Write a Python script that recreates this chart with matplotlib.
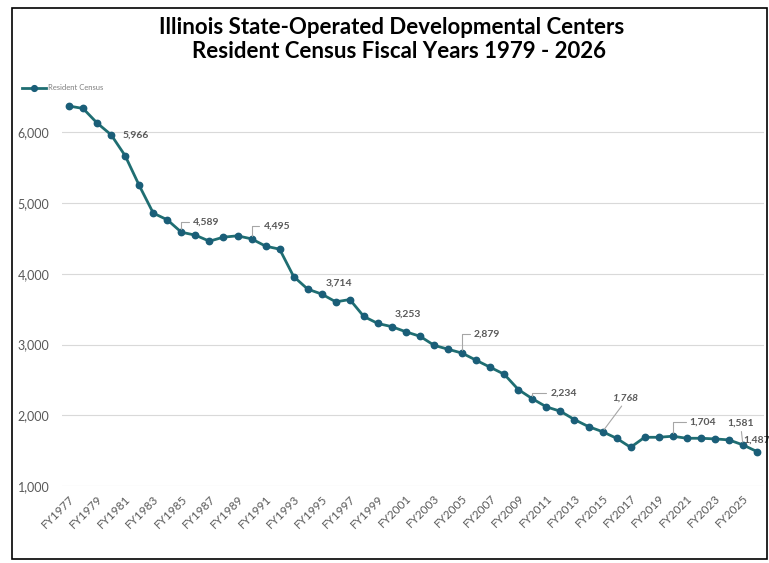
import matplotlib
matplotlib.use("Agg")
import matplotlib.pyplot as plt
from matplotlib.patches import Rectangle

years = list(range(1977, 2027))
categories = [f"FY{y}" for y in years]
census = [6373, 6339, 6133, 5966, 5670, 5250, 4859, 4764, 4589, 4547,
          4462, 4519, 4538, 4495, 4392, 4349, 3962, 3784, 3714, 3604,
          3637, 3397, 3298, 3253, 3180, 3117, 2990, 2934, 2879, 2778,
          2679, 2580, 2364, 2234, 2119, 2057, 1939, 1840, 1768, 1675,
          1547, 1689, 1689, 1704, 1675, 1675, 1666, 1652, 1581, 1487]
series_name = "Resident Census"
title_lines = ["Illinois State-Operated Developmental Centers",
               "Resident Census Fiscal Years 1979 - 2026"]
yticks = [1000, 2000, 3000, 4000, 5000, 6000]
labelled = {"FY1980": "5,966", "FY1985": "4,589", "FY1990": "4,495",
            "FY1995": "3,714", "FY2000": "3,253", "FY2005": "2,879",
            "FY2010": "2,234", "FY2015": "1,768", "FY2020": "1,704",
            "FY2025": "1,581", "FY2026": "1,487"}

W, H = 769, 563
fig = plt.figure(figsize=(W / 100, H / 100), dpi=100)
plt.rcParams['font.family'] = ["Lato", "DejaVu Sans"]

# plot area
L, R, T, B = 62, 764, 90, 486
ax = fig.add_axes([L / W, 1 - B / H, (R - L) / W, (B - T) / H])
x = list(range(len(categories)))
line_color = "#1f6e72"
marker_color = "#1a5e78"
ax.plot(x, census, color=line_color, lw=2.0, marker="o", ms=4.6,
        mfc=marker_color, mec=marker_color, label=series_name, zorder=3)
ax.set_xlim(-0.5, len(categories) - 0.5)
ax.set_ylim(1000, 6600)
ax.set_yticks(yticks)
ax.set_yticklabels([f"{v:,}" for v in yticks])
ax.set_xticks(x[::2])
ax.set_xticklabels(categories[::2], rotation=45, ha="right", va="top",
                   rotation_mode="anchor")
ax.tick_params(axis="both", length=0, colors="#595959")
ax.tick_params(axis="y", pad=9, labelsize=9)
ax.tick_params(axis="x", pad=5, labelsize=8.5)
for s in ax.spines.values():
    s.set_visible(False)
ax.grid(axis="y", color="#d9d9d9", lw=0.8)
ax.set_axisbelow(True)

# data labels (offset pixels: dx, dy, ha, leader, italic)
label_cfg = {
    "FY1980": (11, 0, "left", None, False),
    "FY1985": (12, 10, "left", "angle", False),
    "FY1990": (12, 13, "left", "angle", False),
    "FY1995": (17, 11, "center", None, False),
    "FY2000": (16, 13, "center", None, False),
    "FY2005": (12, 19, "left", "angle", False),
    "FY2010": (18, 6, "left", "angle", False),
    "FY2015": (22, 34, "center", "line", True),
    "FY2020": (17, 14, "left", "angle", False),
    "FY2025": (-2, 22, "center", "line", False),
    "FY2026": (-14, 11, "left", None, False),
}
for cat, txt in labelled.items():
    i = categories.index(cat)
    dx, dy, ha, leader, ital = label_cfg[cat]
    ap = None
    if leader == "angle":
        ap = dict(arrowstyle="-", color="#a6a6a6", lw=0.8,
                  connectionstyle="angle,angleA=0,angleB=90,rad=0",
                  shrinkA=1, shrinkB=2, relpos=(0, 0.5))
    elif leader == "line":
        ap = dict(arrowstyle="-", color="#a6a6a6", lw=0.8,
                  shrinkA=1, shrinkB=2, relpos=(0.5, 0))
    ax.annotate(txt, xy=(i, census[i]), xytext=(dx, dy),
                textcoords="offset pixels", ha=ha, va="center",
                fontsize=7.5, color="#595959", fontweight="bold",
                fontstyle="italic" if ital else "normal",
                arrowprops=ap, zorder=4)

# legend
fig.legend(loc="center left", bbox_to_anchor=(22 / W, 1 - 88 / H),
           frameon=False, fontsize=5.5, labelcolor="#7f7f7f",
           handlelength=3.2, handletextpad=0.2, borderpad=0,
           borderaxespad=0, markerscale=0.9)

# title
fig.text(392 / W, 1 - 28 / H, title_lines[0], ha="center", va="center",
         fontsize=16, fontweight="bold", color="#000000")
fig.text(399 / W, 1 - 51 / H, title_lines[1], ha="center", va="center",
         fontsize=16, fontweight="bold", color="#000000")

# outer border
fig.patches.append(Rectangle((12 / W, 1 - 559 / H), (767 - 12) / W,
                             (559 - 8) / H, transform=fig.transFigure,
                             fill=False, edgecolor="black", lw=1.2))

fig.savefig("out.png", dpi=100)
